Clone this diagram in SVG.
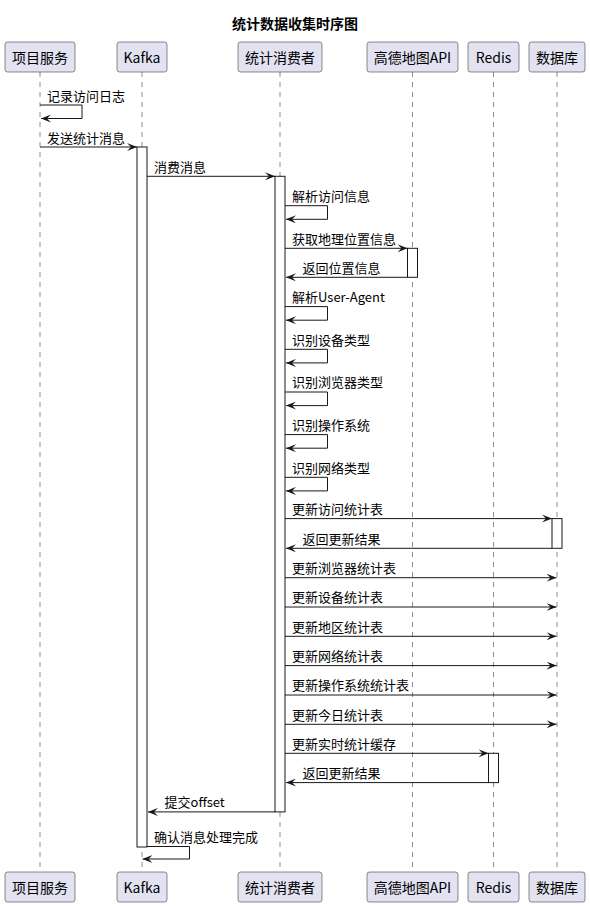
<svg xmlns="http://www.w3.org/2000/svg" width="590" height="906" viewBox="0 0 590 906">
<defs>
<style>
.t{font-family:"Noto Sans CJK SC","Liberation Sans",sans-serif;fill:#000}
.title{font-size:14px;font-weight:bold;text-anchor:middle}
.pt{font-size:14px;text-anchor:middle}
.m{font-size:13px}
.pbox{fill:#E2E2F0;stroke:#181818;stroke-width:0.5}
.life{stroke:#181818;stroke-width:0.5;stroke-dasharray:5,5;fill:none}
.act{fill:#FFFFFF;stroke:#181818;stroke-width:1}
.msg{stroke:#181818;stroke-width:1;fill:none}
</style>
<marker id="ah" viewBox="0 0 10 8" refX="10" refY="4" markerWidth="10" markerHeight="8" markerUnits="userSpaceOnUse" orient="auto">
<path d="M0,0 L10,4 L0,8 L4,4 Z" fill="#181818"/>
</marker>
</defs>
<rect width="590" height="906" fill="#FFFFFF"/>
<text class="t title" x="295" y="29">统计数据收集时序图</text>

<g id="lifelines">
<line class="life" x1="40" y1="72" x2="40" y2="872"/>
<line class="life" x1="142" y1="72" x2="142" y2="872"/>
<line class="life" x1="280" y1="72" x2="280" y2="872"/>
<line class="life" x1="412.5" y1="72" x2="412.5" y2="872"/>
<line class="life" x1="493.5" y1="72" x2="493.5" y2="872"/>
<line class="life" x1="557" y1="72" x2="557" y2="872"/>
</g>

<g id="p_service">
<rect class="pbox" x="5" y="42" width="70" height="30" rx="2.5"/>
<text class="t pt" x="40" y="63">项目服务</text>
<rect class="pbox" x="5" y="872" width="70" height="30" rx="2.5"/>
<text class="t pt" x="40" y="893">项目服务</text>
</g>
<g id="p_kafka">
<rect class="pbox" x="117" y="42" width="50" height="30" rx="2.5"/>
<text class="t pt" x="142" y="63">Kafka</text>
<rect class="pbox" x="117" y="872" width="50" height="30" rx="2.5"/>
<text class="t pt" x="142" y="893">Kafka</text>
<rect class="act" x="137" y="147" width="10" height="700"/>
</g>
<g id="p_consumer">
<rect class="pbox" x="238" y="42" width="84" height="30" rx="2.5"/>
<text class="t pt" x="280" y="63">统计消费者</text>
<rect class="pbox" x="238" y="872" width="84" height="30" rx="2.5"/>
<text class="t pt" x="280" y="893">统计消费者</text>
<rect class="act" x="275" y="176.3" width="10" height="635.6"/>
</g>
<g id="p_amap">
<rect class="pbox" x="367" y="42" width="91" height="30" rx="2.5"/>
<text class="t pt" x="412.5" y="63">高德地图API</text>
<rect class="pbox" x="367" y="872" width="91" height="30" rx="2.5"/>
<text class="t pt" x="412.5" y="893">高德地图API</text>
<rect class="act" x="407.5" y="248.3" width="10" height="29"/>
</g>
<g id="p_redis">
<rect class="pbox" x="468" y="42" width="51" height="30" rx="2.5"/>
<text class="t pt" x="493.5" y="63">Redis</text>
<rect class="pbox" x="468" y="872" width="51" height="30" rx="2.5"/>
<text class="t pt" x="493.5" y="893">Redis</text>
<rect class="act" x="488.5" y="753.3" width="10" height="29.3"/>
</g>
<g id="p_db">
<rect class="pbox" x="529" y="42" width="56" height="30" rx="2.5"/>
<text class="t pt" x="557" y="63">数据库</text>
<rect class="pbox" x="529" y="872" width="56" height="30" rx="2.5"/>
<text class="t pt" x="557" y="893">数据库</text>
<rect class="act" x="552" y="518.6" width="10" height="29.7"/>
</g>

<g id="connectors">
<polyline class="msg" points="40,105 82,105 82,118.5 41,118.5" marker-end="url(#ah)"/>
<text class="t m" x="47" y="101">记录访问日志</text>

<line class="msg" x1="40" y1="147" x2="137" y2="147" marker-end="url(#ah)"/>
<text class="t m" x="47" y="142.5">发送统计消息</text>

<line class="msg" x1="147" y1="176.3" x2="275" y2="176.3" marker-end="url(#ah)"/>
<text class="t m" x="154" y="171.5">消费消息</text>

<polyline class="msg" points="285,205.7 327.5,205.7 327.5,219.3 286,219.3" marker-end="url(#ah)"/>
<text class="t m" x="292" y="201">解析访问信息</text>

<line class="msg" x1="285" y1="248.3" x2="407.5" y2="248.3" marker-end="url(#ah)"/>
<text class="t m" x="292" y="243.5">获取地理位置信息</text>

<line class="msg" x1="407.5" y1="277.3" x2="286" y2="277.3" marker-end="url(#ah)"/>
<text class="t m" x="302.5" y="272.5">返回位置信息</text>

<polyline class="msg" points="285,306.6 327.5,306.6 327.5,320.2 286,320.2" marker-end="url(#ah)"/>
<text class="t m" x="292" y="302">解析User-Agent</text>

<polyline class="msg" points="285,349.3 327.5,349.3 327.5,362.9 286,362.9" marker-end="url(#ah)"/>
<text class="t m" x="292" y="344.5">识别设备类型</text>

<polyline class="msg" points="285,392 327.5,392 327.5,405.6 286,405.6" marker-end="url(#ah)"/>
<text class="t m" x="292" y="387.3">识别浏览器类型</text>

<polyline class="msg" points="285,434.6 327.5,434.6 327.5,448.2 286,448.2" marker-end="url(#ah)"/>
<text class="t m" x="292" y="430">识别操作系统</text>

<polyline class="msg" points="285,477.3 327.5,477.3 327.5,490.9 286,490.9" marker-end="url(#ah)"/>
<text class="t m" x="292" y="472.5">识别网络类型</text>

<line class="msg" x1="285" y1="518.6" x2="552" y2="518.6" marker-end="url(#ah)"/>
<text class="t m" x="292" y="514">更新访问统计表</text>

<line class="msg" x1="552" y1="548.3" x2="286" y2="548.3" marker-end="url(#ah)"/>
<text class="t m" x="302.5" y="543.5">返回更新结果</text>

<line class="msg" x1="285" y1="577.7" x2="556.5" y2="577.7" marker-end="url(#ah)"/>
<text class="t m" x="292" y="573">更新浏览器统计表</text>

<line class="msg" x1="285" y1="607" x2="556.5" y2="607" marker-end="url(#ah)"/>
<text class="t m" x="292" y="602.3">更新设备统计表</text>

<line class="msg" x1="285" y1="636.3" x2="556.5" y2="636.3" marker-end="url(#ah)"/>
<text class="t m" x="292" y="631.6">更新地区统计表</text>

<line class="msg" x1="285" y1="665.6" x2="556.5" y2="665.6" marker-end="url(#ah)"/>
<text class="t m" x="292" y="661">更新网络统计表</text>

<line class="msg" x1="285" y1="695" x2="556.5" y2="695" marker-end="url(#ah)"/>
<text class="t m" x="292" y="690.3">更新操作系统统计表</text>

<line class="msg" x1="285" y1="724.3" x2="556.5" y2="724.3" marker-end="url(#ah)"/>
<text class="t m" x="292" y="719.6">更新今日统计表</text>

<line class="msg" x1="285" y1="753.3" x2="488.5" y2="753.3" marker-end="url(#ah)"/>
<text class="t m" x="292" y="748.6">更新实时统计缓存</text>

<line class="msg" x1="488.5" y1="782.6" x2="286" y2="782.6" marker-end="url(#ah)"/>
<text class="t m" x="302.5" y="778">返回更新结果</text>

<line class="msg" x1="275" y1="811.9" x2="148" y2="811.9" marker-end="url(#ah)"/>
<text class="t m" x="164.5" y="807.2">提交offset</text>

<polyline class="msg" points="147,846.5 189.5,846.5 189.5,859 142.5,859" marker-end="url(#ah)"/>
<text class="t m" x="154" y="841.8">确认消息处理完成</text>
</g>
</svg>
